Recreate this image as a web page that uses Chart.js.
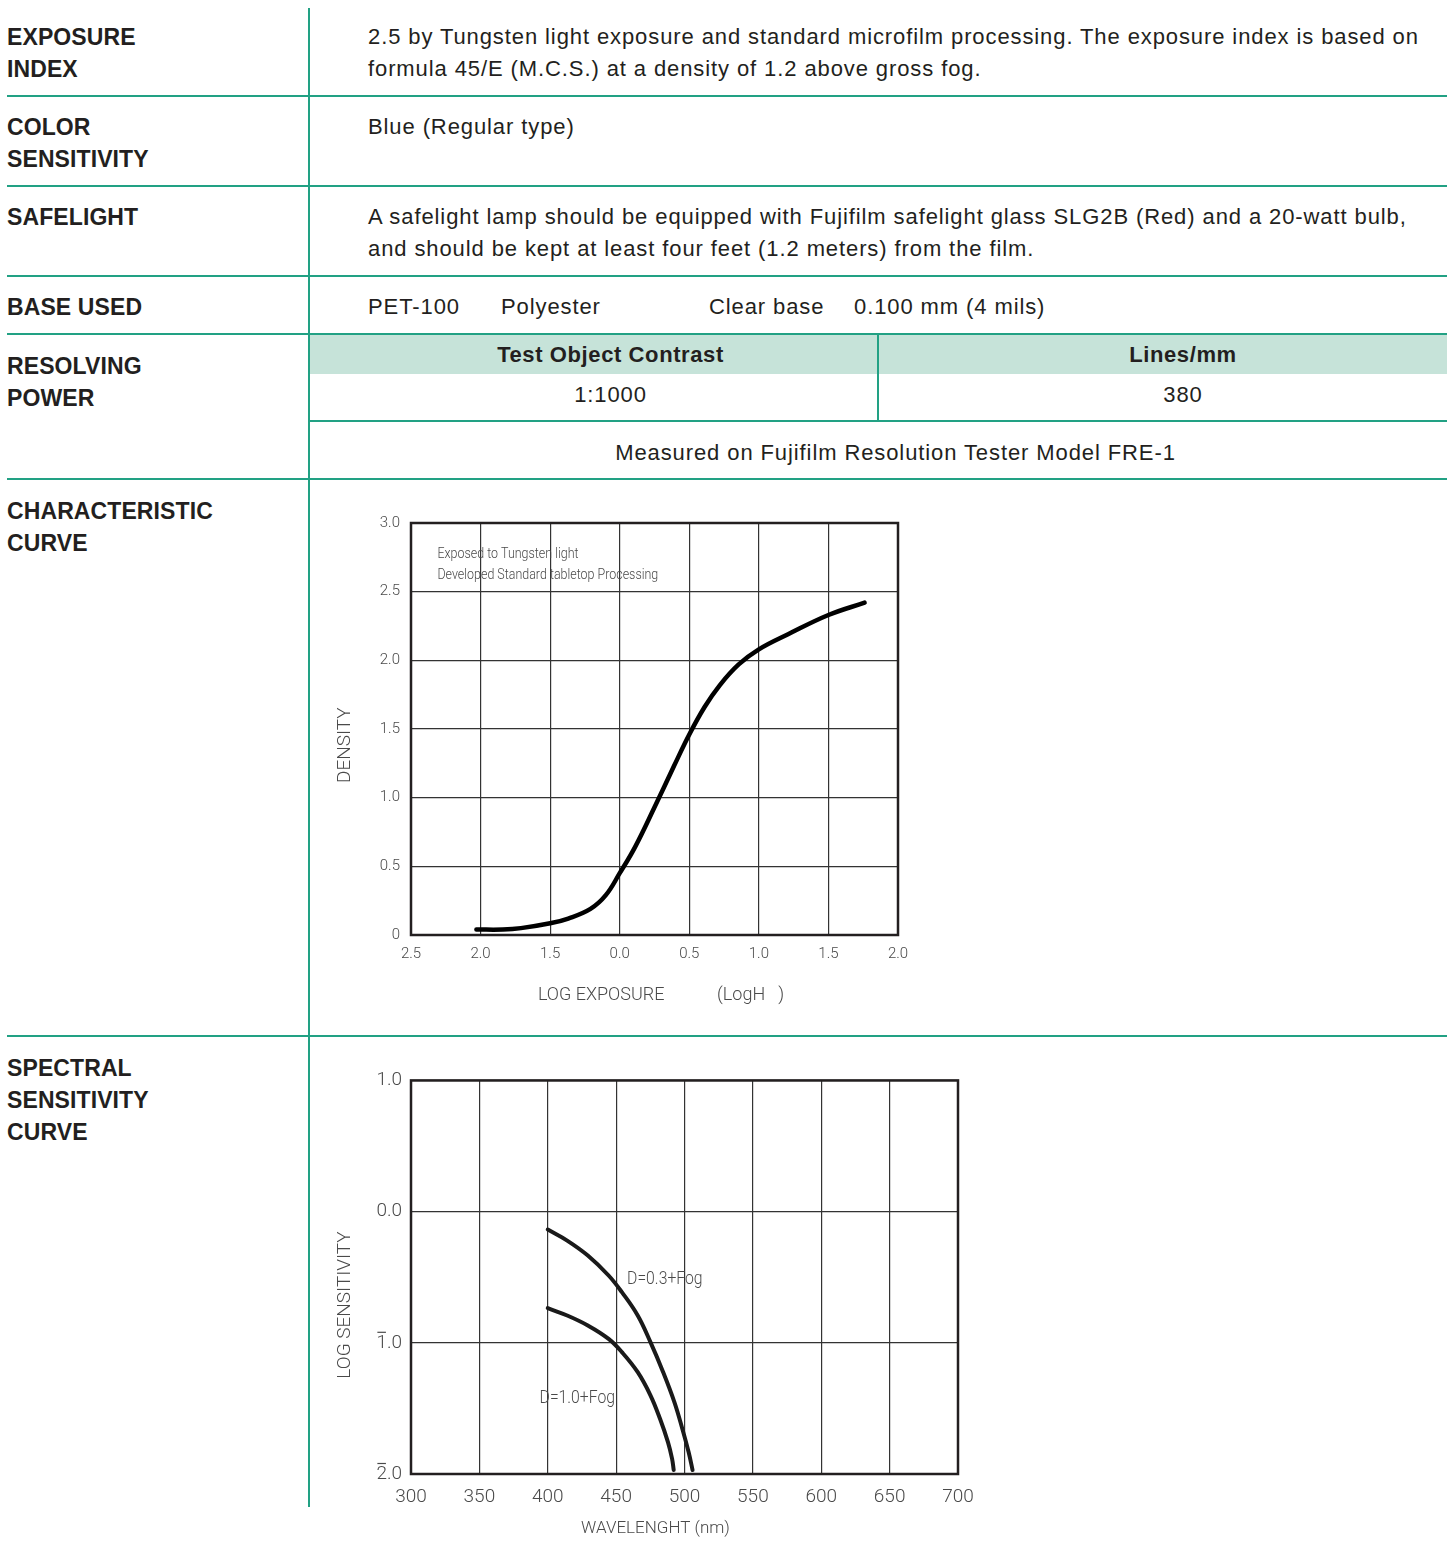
<!DOCTYPE html>
<html>
<head>
<meta charset="utf-8">
<script src="https://cdn.jsdelivr.net/npm/chart.js@4"></script>
<style>
  body { margin: 0; background: #fff; }
  #page { position: relative; width: 1451px; height: 1543px; font-family: "Liberation Sans", Arial, sans-serif; color: #231f20; }
  .lab { position: absolute; left: 7px; font-weight: bold; font-size: 23px; line-height: 32px; letter-spacing: 0.1px; }
  .txt { position: absolute; left: 368px; font-size: 22px; line-height: 32px; letter-spacing: 0.9px; white-space: nowrap; }
  .hl { position: absolute; left: 7px; width: 1440px; height: 2px; background: #22a184; }
  .vl { position: absolute; width: 2px; background: #22a184; }
  .cen { position: absolute; font-size: 22px; line-height: 32px; text-align: center; letter-spacing: 0.9px; }
  .cen b { letter-spacing: 0.6px; }
  canvas { display: block; }
  .box { position: absolute; }
</style>
</head>
<body>
<div id="page">
  <div class="vl" style="left:308px;top:8px;height:1499px"></div>

  <div class="lab" style="top:21px">EXPOSURE<br>INDEX</div>
  <div class="txt" style="top:21px">2.5 by Tungsten light exposure and standard microfilm processing. The exposure index is based on<br>formula 45/E (M.C.S.) at a density of 1.2 above gross fog.</div>
  <div class="hl" style="top:95px"></div>

  <div class="lab" style="top:111px">COLOR<br>SENSITIVITY</div>
  <div class="txt" style="top:111px">Blue (Regular type)</div>
  <div class="hl" style="top:185px"></div>

  <div class="lab" style="top:201px">SAFELIGHT</div>
  <div class="txt" style="top:201px">A safelight lamp should be equipped with Fujifilm safelight glass SLG2B (Red) and a 20-watt bulb,<br>and should be kept at least four feet (1.2 meters) from the film.</div>
  <div class="hl" style="top:275px"></div>

  <div class="lab" style="top:291px">BASE USED</div>
  <div class="txt" style="top:291px">PET-100</div>
  <div class="txt" style="top:291px;left:501px">Polyester</div>
  <div class="txt" style="top:291px;left:709px">Clear base</div>
  <div class="txt" style="top:291px;left:854px">0.100 mm (4 mils)</div>
  <div class="hl" style="top:333px"></div>

  <div style="position:absolute;left:310px;top:335px;width:1137px;height:39px;background:#c6e3d9"></div>
  <div class="vl" style="left:877px;top:335px;height:86px"></div>
  <div class="cen" style="left:344px;width:533px;top:339px"><b>Test Object Contrast</b></div>
  <div class="cen" style="left:919px;width:528px;top:339px"><b>Lines/mm</b></div>
  <div class="cen" style="left:344px;width:533px;top:379px">1:1000</div>
  <div class="cen" style="left:919px;width:528px;top:379px">380</div>
  <div class="lab" style="top:350px">RESOLVING<br>POWER</div>
  <div class="hl" style="top:420px;left:309px;width:1138px"></div>
  <div class="cen" style="left:340px;width:1111px;top:437px">Measured on Fujifilm Resolution Tester Model FRE-1</div>
  <div class="hl" style="top:478px"></div>

  <div class="lab" style="top:495px">CHARACTERISTIC<br>CURVE</div>
  <div class="box" style="left:330px;top:503px;width:590px;height:507px"><canvas id="curve1"></canvas></div>
  <div class="hl" style="top:1035px"></div>

  <div class="lab" style="top:1052px">SPECTRAL<br>SENSITIVITY<br>CURVE</div>
  <div class="box" style="left:330px;top:1060px;width:660px;height:483px"><canvas id="curve2"></canvas></div>
</div>

<script>
// characteristic curve (log exposure vs density)
var logExposure = [-1.03, -0.84, -0.71, -0.5, -0.37, -0.21, -0.1, 0, 0.11, 0.25, 0.39, 0.5, 0.61, 0.72, 0.855, 1.0, 1.21, 1.5, 1.76];
var density = [0.04, 0.04, 0.05, 0.085, 0.12, 0.19, 0.29, 0.45, 0.64, 0.93, 1.23, 1.46, 1.66, 1.82, 1.97, 2.08, 2.19, 2.33, 2.42];
var exposureTicks = ['2.5', '2.0', '1.5', '0.0', '0.5', '1.0', '1.5', '2.0'];
var densityTicks = ['0', '0.5', '1.0', '1.5', '2.0', '2.5', '3.0'];

// spectral sensitivity
var wlLow = [400, 414.2, 429.3, 444.5, 454.2, 465.8, 475.1, 484.4, 492.6, 498.4, 503, 505.9];
var sensLow = [-0.137, -0.221, -0.335, -0.487, -0.614, -0.792, -0.995, -1.224, -1.452, -1.655, -1.833, -1.97];
var wlHigh = [400, 414.2, 429.3, 444.5, 454.2, 465.8, 475.1, 482.1, 487.9, 490.9, 492.1];
var sensHigh = [-0.736, -0.792, -0.868, -0.97, -1.071, -1.224, -1.4, -1.579, -1.757, -1.883, -1.97];
var sensTicks = ['2.0', '1.0', '0.0', '1.0'];
var sensTickBar = [true, true, false, false];   // bar (negative characteristic) over first digit

var face = 'Roboto, sans-serif';
var gray = '#4a4a4a';

function pts(xs, ys) {
  return xs.map(function (x, i) { return { x: x, y: ys[i] }; });
}

// thick frame, condensed free text, and bars over negative log labels
var frameAndNotes = {
  id: 'frameAndNotes',
  afterDraw: function (chart, args, opts) {
    var c = chart.ctx, a = chart.chartArea;
    c.save();
    c.strokeStyle = '#231f20';
    c.lineWidth = 2.5;
    c.strokeRect(a.left, a.top, a.right - a.left, a.bottom - a.top);
    c.fillStyle = gray;
    c.font = '300 ' + opts.size + 'px ' + face;
    c.textBaseline = 'middle';
    (opts.notes || []).forEach(function (n) {
      c.save();
      c.translate(chart.scales.x.getPixelForValue(n.x), chart.scales.y.getPixelForValue(n.y));
      c.scale(0.83, 1);
      c.fillText(n.text, 0, 0);
      c.restore();
    });
    if (opts.bars) {
      var ys = chart.scales.y, to = ys.options.ticks;
      c.font = '300 ' + to.font.size + 'px ' + face;
      c.strokeStyle = gray;
      c.lineWidth = 1.2;
      ys.ticks.forEach(function (t, i) {
        if (!opts.bars[i]) return;
        var label = sensTicks[i];
        var right = a.left - to.padding;
        var left = right - c.measureText(label).width;
        var dw = c.measureText(label.charAt(0)).width;
        var y = ys.getPixelForValue(t.value) - to.font.size * 0.5 - 1;
        c.beginPath();
        c.moveTo(left + 1, y);
        c.lineTo(left + dw - 1, y);
        c.stroke();
      });
    }
    c.restore();
  }
};

new Chart(document.getElementById('curve1'), {
  type: 'scatter',
  data: {
    datasets: [{
      data: pts(logExposure, density),
      showLine: true,
      borderColor: '#000',
      borderWidth: 4.5,
      borderCapStyle: 'round',
      pointRadius: 0,
      tension: 0.4
    }]
  },
  options: {
    responsive: true,
    maintainAspectRatio: false,
    animation: false,
    layout: { padding: { top: 0, right: 22, left: 0, bottom: 0 } },
    plugins: {
      legend: { display: false },
      tooltip: { enabled: false },
      frameAndNotes: {
        size: 15,
        notes: [
          { text: 'Exposed to Tungsten light', x: -1.31, y: 2.775 },
          { text: 'Developed Standard tabletop Processing', x: -1.31, y: 2.62 }
        ]
      }
    },
    scales: {
      x: {
        type: 'linear', min: -1.5, max: 2.0,
        afterFit: function (s) { s.height = 75; },
        grid: { color: '#333', lineWidth: 1.2, drawTicks: false },
        border: { display: false },
        ticks: {
          stepSize: 0.5, padding: 10, color: gray,
          font: { family: face, size: 15, weight: 300 },
          callback: function (v, i) { return exposureTicks[i]; }
        },
        title: { display: true, text: '   LOG EXPOSURE            (LogH   )', color: gray, font: { family: face, size: 18, weight: 300 }, padding: { top: 14 } }
      },
      y: {
        min: 0, max: 3.0,
        afterFit: function (s) { s.width = 81; },
        grid: { color: '#333', lineWidth: 1.2, drawTicks: false },
        border: { display: false },
        ticks: {
          stepSize: 0.5, padding: 11, color: gray,
          font: { family: face, size: 15, weight: 300 },
          callback: function (v, i) { return densityTicks[i]; }
        },
        title: { display: true, text: 'DENSITY       ', color: gray, font: { family: face, size: 19, weight: 300 }, padding: { bottom: 10 } }
      }
    }
  },
  plugins: [frameAndNotes]
});

new Chart(document.getElementById('curve2'), {
  type: 'scatter',
  data: {
    datasets: [
      { label: 'D=0.3+Fog', data: pts(wlLow, sensLow) },
      { label: 'D=1.0+Fog', data: pts(wlHigh, sensHigh) }
    ].map(function (d) {
      d.showLine = true;
      d.borderColor = '#1a1a1a';
      d.borderWidth = 4;
      d.borderCapStyle = 'round';
      d.pointRadius = 0;
      d.tension = 0.4;
      return d;
    })
  },
  options: {
    responsive: true,
    maintainAspectRatio: false,
    animation: false,
    layout: { padding: { top: 0, right: 32, left: 0, bottom: 0 } },
    plugins: {
      legend: { display: false },
      tooltip: { enabled: false },
      frameAndNotes: {
        size: 19,
        bars: sensTickBar,
        notes: [
          { text: 'D=0.3+Fog', x: 458, y: -0.513 },
          { text: 'D=1.0+Fog', x: 394, y: -1.425 }
        ]
      }
    },
    scales: {
      x: {
        type: 'linear', min: 300, max: 700,
        afterFit: function (s) { s.height = 69; },
        grid: { color: '#333', lineWidth: 1.2, drawTicks: false },
        border: { display: false },
        ticks: { stepSize: 50, padding: 12, color: gray, font: { family: face, size: 19, weight: 300 } },
        title: { display: true, text: 'WAVELENGHT (nm)              ', color: gray, font: { family: face, size: 17, weight: 300 }, padding: { top: 10 } }
      },
      y: {
        min: -2, max: 1,
        afterFit: function (s) { s.width = 81; },
        grid: { color: '#333', lineWidth: 1.2, drawTicks: false },
        border: { display: false },
        ticks: {
          stepSize: 1, padding: 9, color: gray,
          font: { family: face, size: 19, weight: 300 },
          callback: function (v, i) { return sensTicks[i]; }
        },
        title: { display: true, text: 'LOG SENSITIVITY            ', color: gray, font: { family: face, size: 19, weight: 300 }, padding: { bottom: 8 } }
      }
    }
  },
  plugins: [frameAndNotes]
});
</script>
</body>
</html>
